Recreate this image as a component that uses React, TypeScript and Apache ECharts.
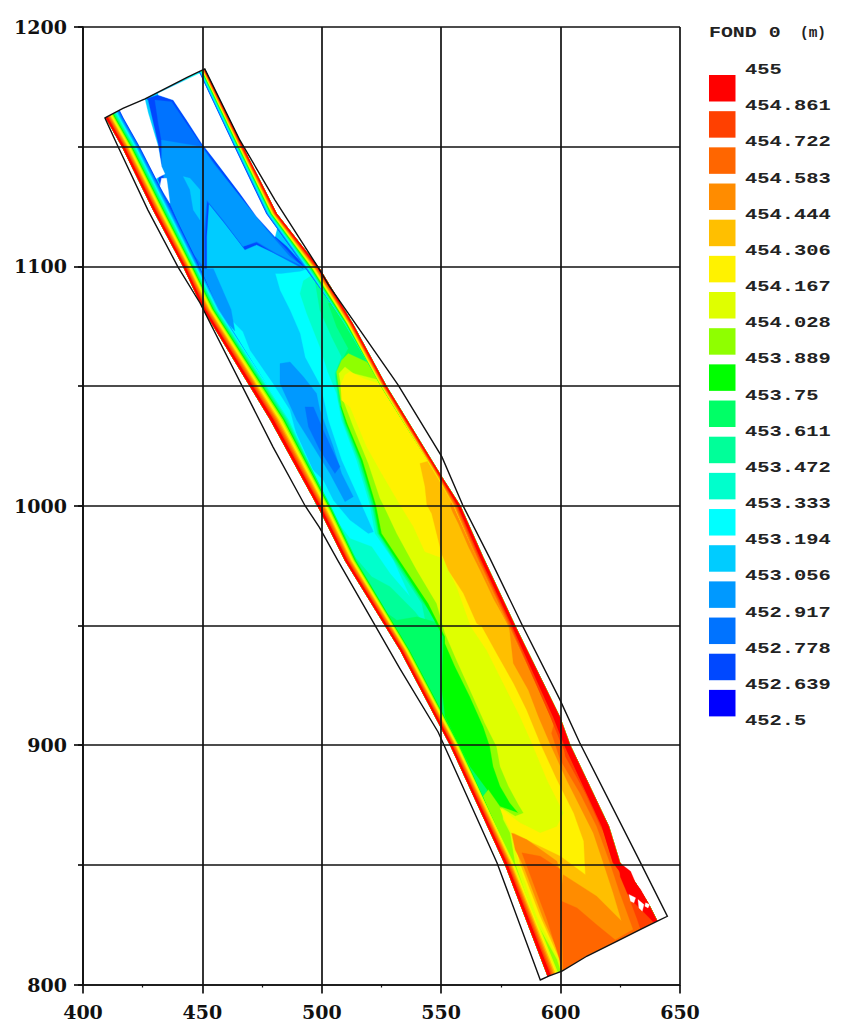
import React, { useEffect, useRef } from "react";
import * as echarts from "echarts";

type P = number[];

const LEVEL_LABELS = ["455","454.861","454.722","454.583","454.444","454.306","454.167","454.028","453.889","453.75","453.611","453.472","453.333","453.194","453.056","452.917","452.778","452.639","452.5"];
const COLORS = ["#FF0000","#FF4000","#FF6600","#FF8C00","#FFBF00","#FFF200","#DFFF00","#8FFF00","#00FF00","#00FF66","#00FF99","#00FFCC","#00FFFF","#00CCFF","#0099FF","#0073FF","#0048FF","#0000FF"];
const X_TICKS = [400, 650];
const Y_TICKS = [800, 1200];

// domain outline
const OUTLINE: P[] = [[409.2,1162],[416.7,1166],[426,1170],[443.6,1179],[451,1182.5],[465.7,1152.7],[480.4,1127.7],[498.4,1099.7],[503,1092],[532,1050.4],[550.3,1020.4],[559,1000.3],[570.4,978],[584,950],[599.7,919],[608,901],[632.4,853],[644.7,828.5],[640.5,826.5],[633.5,823],[623.7,818.1],[611.1,811.9],[600.6,805.6],[595,803.5],[591.5,801.9],[573.4,850.8],[548.7,905.5],[532.7,932],[506.8,977],[499,991],[493,1000],[479.6,1024.5],[449,1084.7],[439.8,1099.7],[427.2,1123.5],[414.7,1150]];

// bank stations: x, y, highest band reached on the slope, slope width
const LEFT_BANK: P[] = [[407.5,1166,16,7.5],[409.5,1162,16,7.5],[416.3,1150,16,7.5],[429.3,1123.5,16,8],[441.9,1100,16,7],[450.3,1082,14,7],[478.3,1036,12,8.4],[499.2,998,9,5.5],[509.7,977,9,5],[532.7,939.7,8,4],[553.7,900,8,4],[576.7,850,6,4],[594.7,803,6,5]];
const RIGHT_BANK: P[] = [[451,1182.5,16,3],[466.6,1150.7,16,3.6],[481.2,1122,16,4.5],[499.2,1099,15,6],[513,1076,11,3.5],[527.3,1049.6,7,2.5],[550.3,1012,5,2],[558,1000,4,3],[567.5,978.6,3,3],[581,949.8,3,3],[599.7,911.7,1,4],[604,900,1,3.5],[620.2,866,0,3],[624.8,851,0,3],[631.4,842.4,0,3],[637,833.4,0,3],[640.5,826.4,0,2]];
const BOTTOM: P[] = [[600.6,805.6],[611.1,811.9],[623.7,818.1],[633.5,823],[640.5,826.5]];
const TOP_EDGE: P[] = [[409.2,1162],[416.7,1166],[426,1170],[443.6,1179],[451,1182.5]];

// lows of the channel
const TROUGH_13: P[] = [[414,1168],[449,1180],[464,1150],[478,1122],[497,1100],[491,1098],[483,1097],[480.5,1097],[482.5,1090],[486.7,1081.7],[490.9,1072],[493,1062],[499.5,1050],[502.7,1035.8],[508.3,1019],[514.6,1005],[521.6,989.1],[519.5,988.4],[511.8,994],[504.9,1002.3],[500.7,1010.7],[492.3,1019],[486.7,1040],[479.7,1051],[470,1065],[467,1072.7],[463,1076.8],[448,1090],[430,1125],[416,1160]];
const TOP_16: P[] = [[426.6,1170],[431.5,1171.6],[437.8,1169.5],[443.4,1161.2],[449.7,1151.4],[454.6,1145.2],[465.7,1130.6],[479.7,1113.1],[485.3,1108.3],[493.6,1099.2],[482.5,1104.4],[472.7,1109],[467.8,1106.9],[459.4,1118],[452.7,1126.4],[451.8,1112.4],[451.8,1098.5],[449.7,1099.2],[443.4,1111.1],[436.4,1125],[431.5,1136.1],[432.9,1141.7],[431.5,1151.4],[427.3,1169.5]];
const TOP_15: P[] = [[430.1,1169.5],[437.1,1168.8],[442.7,1160.5],[449,1151.4],[453.9,1144.5],[465,1129.9],[476.2,1116.6],[485.3,1106.9],[492.2,1099],[481,1105],[472.7,1110],[467,1108.3],[458.7,1118.7],[452,1127],[451.1,1112.4],[451.1,1099.2],[447.6,1101.3],[442,1116.6],[436.4,1127.8],[434.3,1137.5],[433.6,1148.6],[431.5,1160]];
const TOP_14: P[] = [[432.9,1152.8],[449.7,1150],[454.6,1143],[465.7,1129.2],[476.9,1115.2],[486.7,1104],[492.2,1100],[481,1105.5],[472.7,1110.4],[467,1108.3],[458.7,1119.4],[451.8,1127.8],[450.4,1112.4],[450.4,1100],[444.8,1106.9],[440.6,1116.6],[435.7,1127.8],[432.9,1141.7]];
const PATCH_13: P[] = [[442,1137.5],[444.8,1136.8],[449,1132],[449,1119.4],[446.2,1123.6],[444.8,1132]];
const EDGE_14: P[] = [[449.7,1099],[454.6,1099],[462,1082],[463.6,1073],[459,1078],[452,1088]];
const POCKET_14: P[] = [[482.5,1059.4],[486.7,1060.1],[492.3,1053.9],[497.8,1046.9],[499.2,1040],[504.8,1024.6],[508.3,1013.5],[513.2,1003.8],[509.7,1001.7],[503.4,1013.5],[496.5,1024.6],[489.5,1035.8],[482.5,1051.1]];
const POCKET_15: P[] = [[493,1041.3],[496.5,1041.3],[500.6,1031.6],[507.6,1016.3],[505.5,1013.5],[499.2,1023.3],[494.4,1033]];

// dry areas
const GAP_A: P[] = [[414.9,1165.3],[425.9,1169.8],[427.3,1164],[429.4,1157],[431.5,1150],[432.9,1141.7],[434.3,1138.6],[430.8,1136.8],[429.1,1134],[427.3,1140.3],[422.5,1145.9],[420,1152.8],[417.5,1159.8],[415.5,1164]];
const GAP_A2: P[] = [[432.9,1136.8],[435,1136.8],[435.7,1131.9],[436.4,1126.4],[434.3,1129.8],[432.2,1133.3]];
const GAP_B: P[] = [[431.5,1172.3],[448.3,1180.4],[451,1180.7],[453.2,1172.3],[458.7,1161.2],[465,1150],[471.3,1136.8],[476.2,1127.8],[481.8,1118],[480.4,1112.4],[472.7,1120.8],[465.7,1130.6],[454.6,1145.2],[449.7,1151.4],[443.4,1161.2],[437.8,1169.5],[431.5,1171.6]];

// left limits of the rising bed, from the right bank side
const RISE_11: P[] = [[497,1097],[492.3,1094],[490.9,1088.7],[493.7,1080.3],[499.2,1066.4],[502.5,1056],[506.2,1046.9],[508.3,1035.8],[514.6,1019],[520.2,1000.3],[522.3,988.4],[530,977.3],[537,962],[528.6,971.7],[520.9,982.9],[511.8,986.3],[504.9,995.4],[500.7,1001],[497,1001],[500.2,998],[510.7,977],[533.7,939.7],[554.7,900],[577.7,850],[595.7,803]];
const RISE_10: P[] = [[498.5,1097],[497.1,1094.2],[499.2,1081.7],[504.1,1070.6],[508.3,1062.2],[505.5,1055.3],[506.9,1044.1],[509.3,1034.4],[515.3,1019],[520.9,1000.3],[523.3,988.4],[532.8,973.1],[541.9,959.2],[543.9,949.5],[539,955.7],[528.6,966.2],[520.9,970.3],[513.2,979.4],[509.7,982.9],[510.7,977],[533.7,939.7],[554.7,900],[577.7,850],[595.7,803]];
const RISE_9: P[] = [[507,1086],[502.7,1084.5],[506.2,1074.8],[511.1,1065.7],[506.9,1058],[506,1053.9],[507.3,1044.1],[509.7,1034.4],[515.7,1019],[521.3,1000.3],[523.7,988.4],[533.5,973.1],[542.6,959.2],[549.5,950.8],[539.8,953.6],[531.4,952.2],[526.5,955.7],[533.7,939.7],[554.7,900],[577.7,850],[595.7,803]];
const RISE_8: P[] = [[514,1060],[507.9,1041.4],[510.1,1034.4],[516.3,1019],[521.9,1000.3],[524.1,988.4],[534.2,973.1],[543.2,959.2],[550.9,945.3],[550.9,942.5],[550.2,924.4],[551.6,912],[557.9,899.4],[562.1,891.1],[569.3,881.4],[568.7,878.6],[577.7,850],[595.7,803]];
const RISE_7: P[] = [[521,1059],[511.1,1063.6],[508.3,1060.8],[506.2,1056],[507,1049.7],[508.3,1041.4],[510.7,1034.4],[517.1,1019],[522.7,1000.3],[525.1,988.4],[535.3,973.1],[544.6,959.2],[551.6,945.3],[551.6,942.5],[555.8,932.8],[562,920.3],[567.6,907.8],[570.4,899.4],[571.8,891.1],[574.7,882.8],[578.8,875.8],[582.3,871.6],[574.6,874.4],[569.7,881.4],[567.6,878.6],[577.7,850],[595.7,803]];
const RISE_6: P[] = [[526,1052],[513.2,1055.3],[509.7,1058],[507.2,1055.3],[509,1044.1],[513.2,1033],[519.5,1017.7],[524.4,1003],[525.8,1000.3],[531.4,988.4],[539.8,973.1],[548.1,959.2],[551.6,946.7],[556.4,935.6],[562.7,921.7],[568.3,909.1],[573.2,899.4],[574.7,891.1],[578.2,882.8],[582.4,875.1],[584.5,871.6],[581,870.3],[575.3,873.7],[576,868.9],[578.9,863.3],[581,850.8],[588.6,828.5],[598.5,810.5],[599.9,806.3]];
const RISE_5: P[] = [[525.8,1050.4],[517.4,1053.2],[511.8,1056],[509.7,1054.6],[507.9,1050.4],[508.3,1044.1],[511.8,1041.4],[518.8,1024.6],[525.1,1013.5],[532.8,1000.3],[538.4,991.2],[543.2,980.8],[550.9,978],[556.5,966.1],[562.4,949.6],[569,939.7],[576,925.8],[583,912],[588,900.8],[594.3,885.5],[601.3,871.6],[598.5,866],[591.5,863.3],[583.1,867.5],[574.7,873.7],[575.4,871.6],[579.5,863.3],[582.4,850.8],[590,828.5],[599.2,810.5],[599.9,807]];
const RISE_4: P[] = [[546,1019],[541.1,1017.7],[543.2,1008],[544,1000.3],[546,996.8],[550.2,980],[553,973.1],[559.3,963.4],[564.9,950.8],[566.9,949.8],[573.2,938.4],[580.3,925.8],[585.8,914.7],[591.5,900.8],[598.5,885.5],[605.5,871.6],[609.7,859.8],[610.4,845.9],[599.9,853.6],[588.6,859],[580.2,863.3],[583,850.8],[591.5,828.5],[599.9,809.8],[600.3,806]];
const RISE_3: P[] = [[554.4,1002.4],[553.7,1000],[555,997],[557.2,992.6],[561.4,982.9],[566.3,973.1],[572,961],[578.5,949.5],[580.2,934.2],[586.5,923],[590.7,912],[595.5,900.8],[602.5,885.5],[609.5,871.6],[613.7,863.3],[617.9,850.8],[622,838.3],[625.5,826.5],[615.1,836.9],[601.1,845.9],[600.1,838.3],[600.1,806]];
const RISE_2: P[] = [[598.5,913.3],[596.2,905],[599.9,893.8],[608.1,880],[615.1,866.1],[620.7,850.8],[624.8,838.3],[630.4,823]];
const RISE_1: P[] = [[600.3,905],[602,895.3],[610.4,880],[616.7,866.1],[621.6,857.7],[623.7,849.4],[627.9,838.3],[632.1,827.2],[633.5,823]];

// lobes near the downstream end
const LOBE_LEFT_3: P[] = [[579.5,863.3],[585.9,860.5],[598.5,851.5],[600.1,845.2],[600.1,806.3],[599.2,813.3],[592.9,827.2],[584.5,849.4],[581,856.3]];
const LOBE_LEFT_2: P[] = [[583.8,855],[591.5,853.6],[600.1,848],[600.1,809],[594.3,827.2],[585.9,849.4]];
const LOBE_BOTTOM_2: P[] = [[600.4,834.8],[606.9,832],[615.1,825],[623.7,818],[601.1,806]];
const BLOB_0: P[] = [[624.4,850.8],[625,845],[628,838],[631,834],[636,829],[639.5,825.5],[640.5,826.5],[637.7,828.5],[637,833.4],[633.5,839.7],[631.4,842.4],[629.3,847.3],[624.8,850.8]];
const HOLE_1: P[] = [[628.6,837.6],[631.4,836.2],[630.7,834.1],[629.3,834.8]];
const HOLE_2: P[] = [[632.4,835.5],[634.9,833.4],[634.2,830.6],[632.8,832]];
const HOLE_3: P[] = [[635.6,834.1],[637.3,833.4],[636.6,832],[635.3,832.7]];

// white outside the domain at both ends
const MASK_TOP: P[] = [[405,1162],[409.2,1162],[416.7,1166],[426,1170],[443.6,1179],[451,1182.5],[455,1190],[405,1190]];
const MASK_BOTTOM: P[] = [[590,797],[595,803.5],[600.6,805.6],[611.1,811.9],[623.7,818.1],[633.5,823],[640.5,826.5],[660,826],[660,797]];

const closeRise = (chain: P[]): P[] => {
  const startY = chain[0][1];
  const bank = RIGHT_BANK.filter((s) => s[1] < startY).map((s) => [s[0], s[1]]).reverse();
  return [...chain, BOTTOM[0], BOTTOM[BOTTOM.length - 1], ...bank];
};

// inner limit of band k on a slope; bands above the station's highest one shrink out of sight
const bandLimit = (s: P, k: number) => {
  const n = s[2];
  if (k > n) return s[3] * (1 - 0.04 * (k - n));
  return (s[3] * (k + 2.5)) / (n + 2.5);
};

const slopeBand = (bank: P[], side: number, k: number): P[] => [
  ...bank.map((s) => [s[0], s[1]]),
  ...bank.slice().reverse().map((s) => [s[0] + side * bandLimit(s, k), s[1]]),
];

const water: P[] = [
  ...TOP_EDGE,
  ...RIGHT_BANK.slice(1).map((s) => [s[0], s[1]]),
  ...BOTTOM.slice().reverse(),
  ...LEFT_BANK.slice(1).reverse().map((s) => [s[0], s[1]]),
];

type Shape = { pts: P[]; fill: string; bare?: boolean };
const c = (i: number) => COLORS[i];
const shapes: Shape[] = [
  { pts: water, fill: c(12) },
  { pts: TROUGH_13, fill: c(13) },
  { pts: TOP_16, fill: c(16) },
  { pts: TOP_15, fill: c(15) },
  { pts: TOP_14, fill: c(14) },
  { pts: PATCH_13, fill: c(13) },
  { pts: EDGE_14, fill: c(14) },
  { pts: POCKET_14, fill: c(14) },
  { pts: POCKET_15, fill: c(15) },
  { pts: GAP_A, fill: "#fff" },
  { pts: GAP_A2, fill: "#fff" },
  { pts: GAP_B, fill: "#fff" },
  { pts: closeRise(RISE_11), fill: c(11) },
  { pts: closeRise(RISE_10), fill: c(10) },
  { pts: closeRise(RISE_9), fill: c(9) },
  { pts: closeRise(RISE_8), fill: c(8) },
  { pts: closeRise(RISE_7), fill: c(7) },
  { pts: closeRise(RISE_6), fill: c(6) },
  { pts: closeRise(RISE_5), fill: c(5) },
  { pts: closeRise(RISE_4), fill: c(4) },
  { pts: closeRise(RISE_3), fill: c(3) },
  { pts: LOBE_LEFT_3, fill: c(3) },
  { pts: LOBE_LEFT_2, fill: c(2) },
  { pts: LOBE_BOTTOM_2, fill: c(2) },
  { pts: closeRise(RISE_2), fill: c(2) },
  { pts: closeRise(RISE_1), fill: c(1) },
];
for (let k = 16; k >= 0; k--) {
  shapes.push({ pts: slopeBand(LEFT_BANK, 1, k), fill: c(k), bare: true });
  shapes.push({ pts: slopeBand(RIGHT_BANK, -1, k), fill: c(k), bare: true });
}
shapes.push({ pts: BLOB_0, fill: c(0) });
shapes.push({ pts: HOLE_1, fill: "#fff" }, { pts: HOLE_2, fill: "#fff" }, { pts: HOLE_3, fill: "#fff" });
shapes.push({ pts: MASK_TOP, fill: "#fff" }, { pts: MASK_BOTTOM, fill: "#fff" });

const LEGEND_X = 709;
const SWATCH = 26.5;
const PITCH = 36.17;

export default function App() {
  const ref = useRef<HTMLDivElement>(null);
  useEffect(() => {
    document.body.style.margin = "0";
    const chart = echarts.init(ref.current!, null, { renderer: "svg" });
    const axisStyle = { color: "#111", width: 1.7 };
    const label = { fontFamily: "DejaVu Serif", fontWeight: "bold" as const, fontSize: 19, color: "#111" };
    const graphic: any[] = [];
    COLORS.forEach((col, i) => {
      graphic.push({ type: "rect", shape: { x: LEGEND_X, y: 75 + i * PITCH, width: SWATCH, height: SWATCH }, style: { fill: col } });
    });
    LEVEL_LABELS.forEach((t, i) => {
      graphic.push({ type: "text", x: 745, y: 70 + i * PITCH, scaleX: 1.46, style: { text: t, fontFamily: "Liberation Mono", fontWeight: "bold", fontSize: 14, fill: "#222", verticalAlign: "middle" } });
    });
    graphic.push({ type: "text", x: 709, y: 33, scaleX: 1.42, style: { text: "FOND 0", fontFamily: "Liberation Mono", fontWeight: "bold", fontSize: 14, fill: "#222", verticalAlign: "middle" } });
    graphic.push({ type: "text", x: 800, y: 33, scaleX: 1.03, style: { text: "(m)", fontFamily: "Liberation Mono", fontWeight: "bold", fontSize: 14, fill: "#222", verticalAlign: "middle" } });

    chart.setOption({
      animation: false,
      backgroundColor: "#fff",
      grid: { left: 83, right: 162, top: 27, bottom: 49.5 },
      xAxis: {
        type: "value", min: X_TICKS[0], max: X_TICKS[1], interval: 50, z: 10,
        axisLine: { show: true, onZero: false, lineStyle: axisStyle },
        axisTick: { show: true, length: 9, lineStyle: axisStyle },
        minorTick: { show: true, splitNumber: 2, length: 3, lineStyle: { color: "#111", width: 1.2 } },
        splitLine: { show: true, lineStyle: axisStyle },
        axisLabel: { ...label, margin: 18 },
      },
      yAxis: [
        {
          type: "value", min: Y_TICKS[0], max: Y_TICKS[1], interval: 50, z: 10, position: "left",
          axisLine: { show: true, onZero: false, lineStyle: axisStyle },
          axisTick: { show: true, length: 5, lineStyle: axisStyle },
          splitLine: { show: true, lineStyle: axisStyle },
          axisLabel: { ...label, margin: 16, formatter: (v: number) => (v % 100 === 0 ? String(v) : "") },
        },
        {
          type: "value", min: Y_TICKS[0], max: Y_TICKS[1], interval: 100, z: 10, position: "left",
          axisLine: { show: false }, axisLabel: { show: false }, splitLine: { show: false },
          axisTick: { show: true, length: 9, lineStyle: axisStyle },
        },
      ],
      series: [
        {
          type: "custom", silent: true, clip: false, z: 2,
          data: shapes.map((_, i) => [i]),
          encode: { x: [], y: [] },
          renderItem: (params: any, api: any) => {
            const s = shapes[params.dataIndex];
            return {
              type: "polygon",
              shape: { points: s.pts.map((p) => api.coord([p[0], p[1]])) },
              style: s.bare ? { fill: s.fill } : { fill: s.fill, stroke: s.fill, lineWidth: 0.3 },
            };
          },
        },
        {
          type: "custom", silent: true, clip: false, z: 3,
          data: [[0]],
          encode: { x: [], y: [] },
          renderItem: (_: any, api: any) => ({
            type: "polygon",
            shape: { points: OUTLINE.map((p) => api.coord(p)) },
            style: { fill: "none", stroke: "#111", lineWidth: 1.4 },
          }),
        },
      ],
      graphic,
    });
    return () => chart.dispose();
  }, []);
  return <div ref={ref} style={{ width: 842, height: 1034 }} />;
}
